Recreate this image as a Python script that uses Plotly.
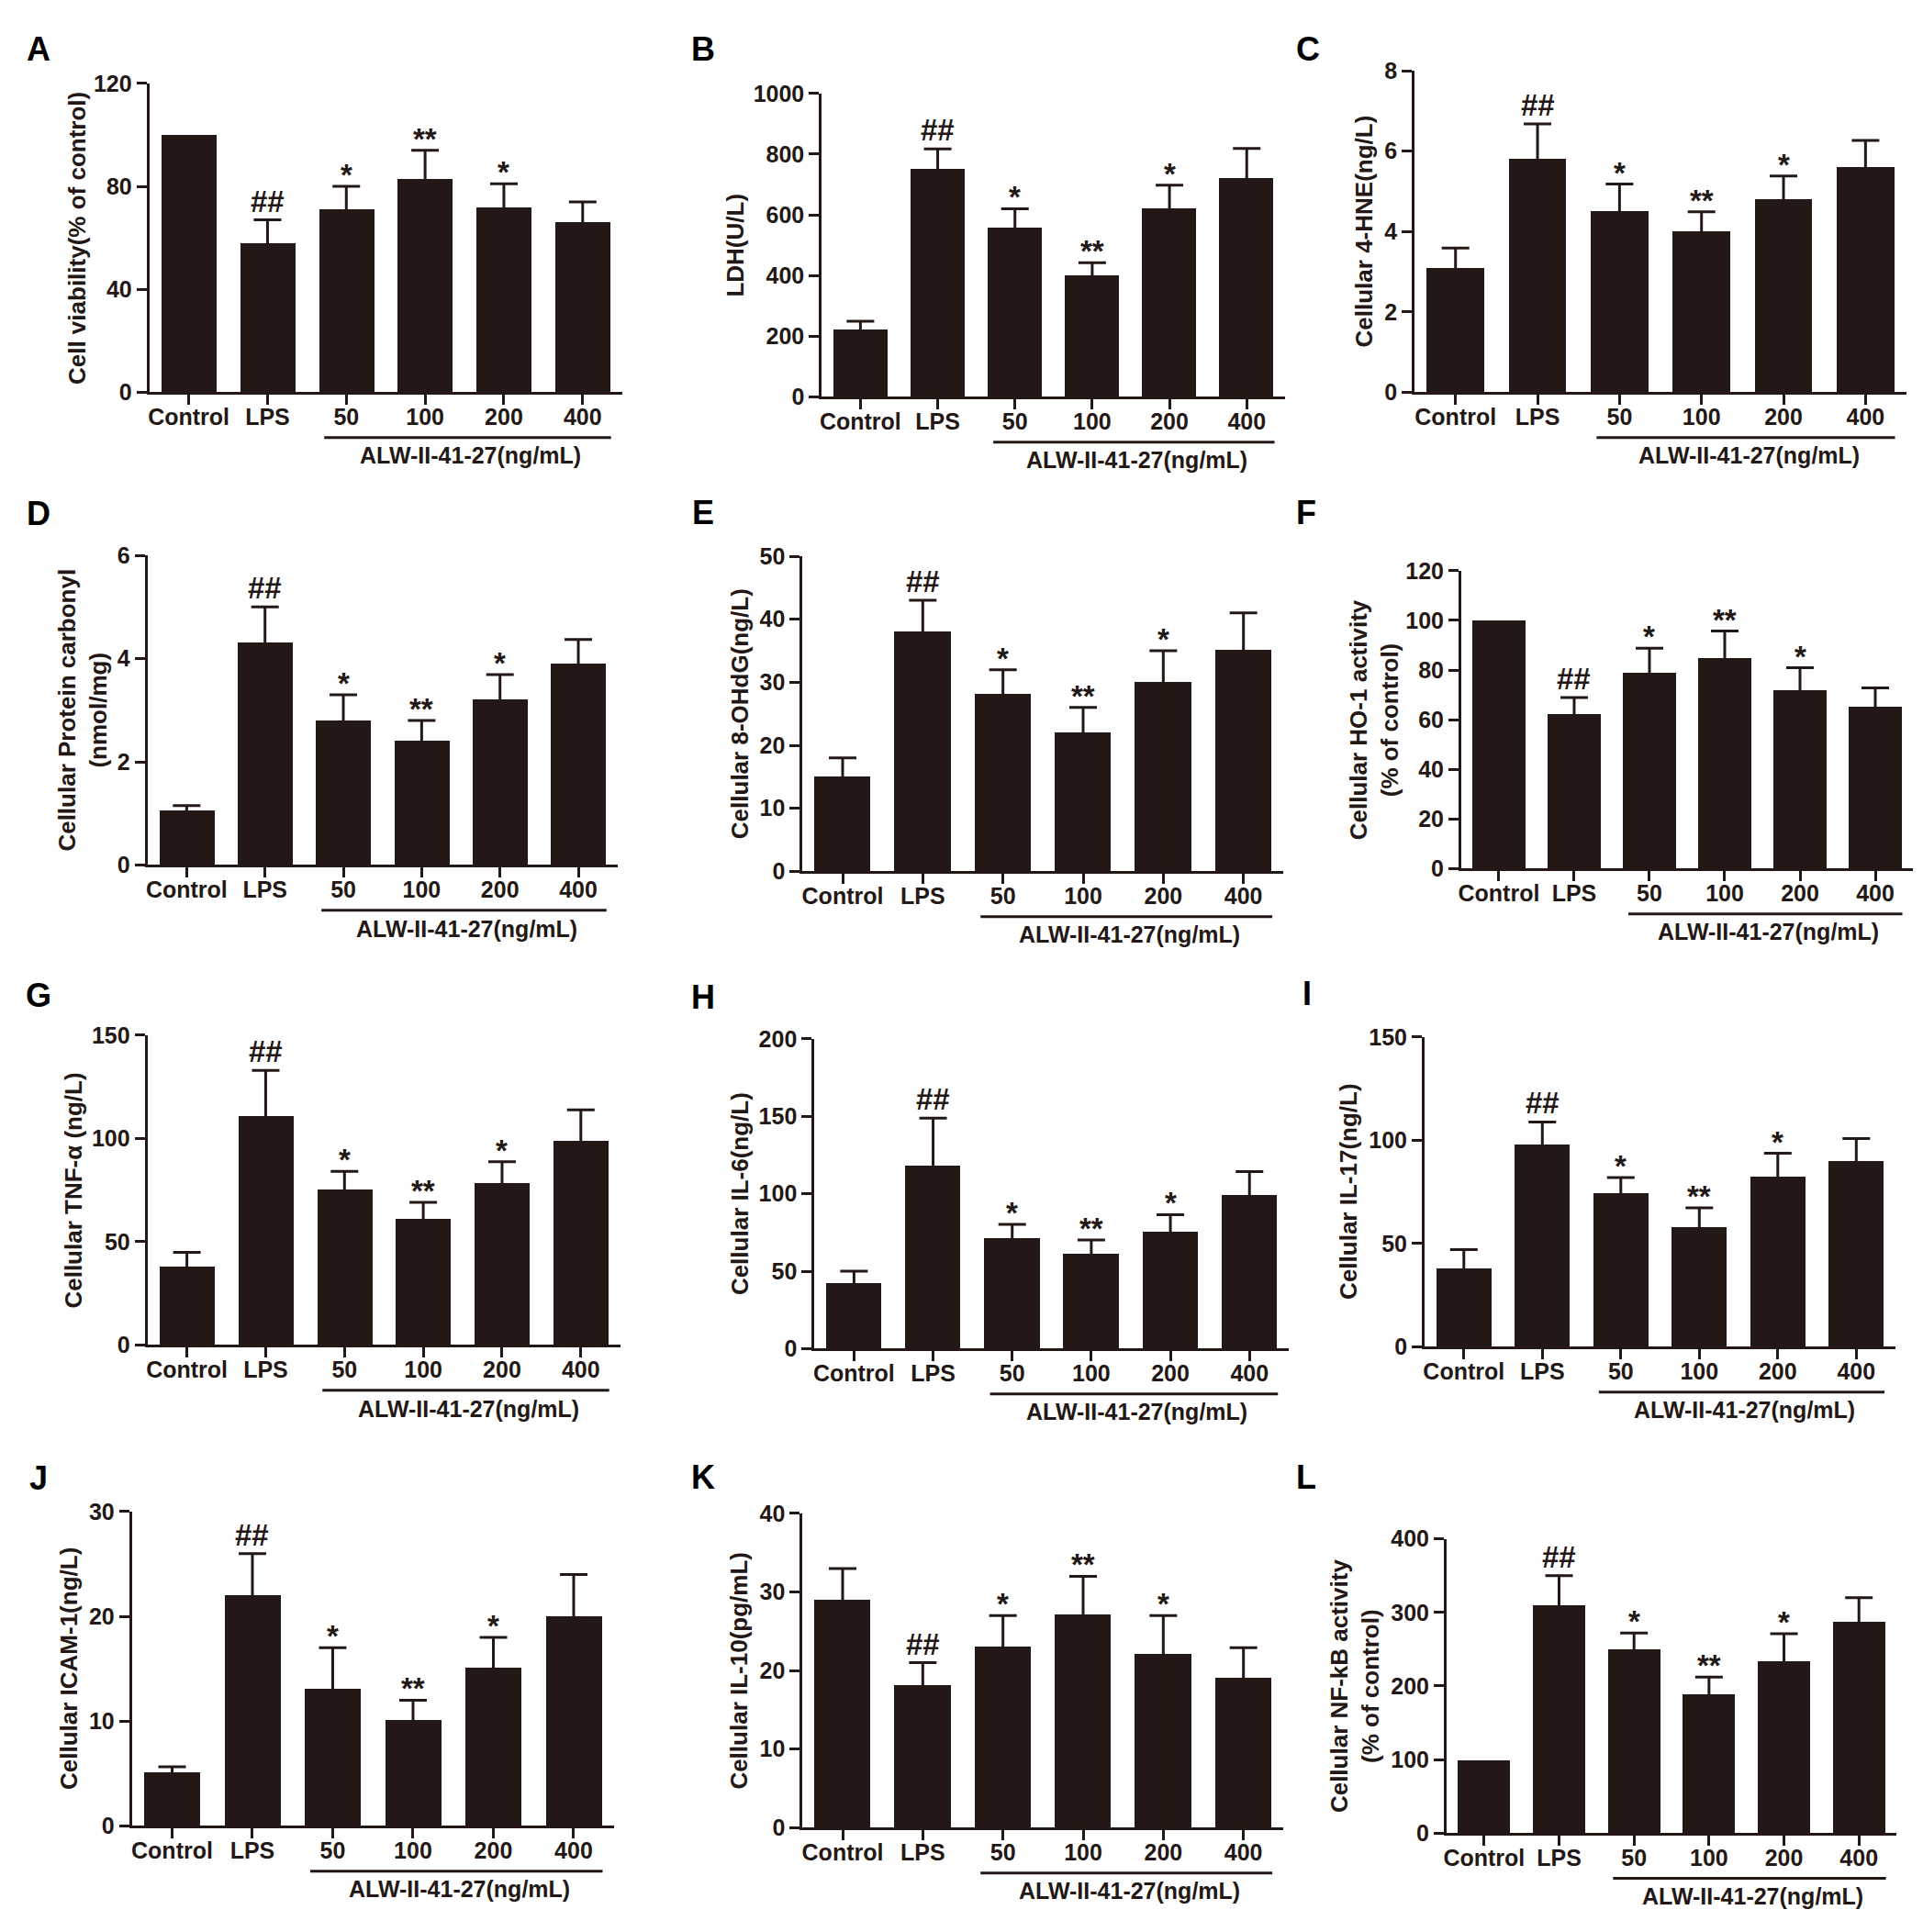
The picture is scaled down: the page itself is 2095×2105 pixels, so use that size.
import plotly.graph_objects as go

W, H = 2095, 2105

categories = ["Control", "LPS", "50", "100", "200", "400"]
marks = ["", "##", "*", "**", "*", ""]
group_label = "ALW-II-41-27(ng/mL)"

# ---- data (mean, upper SEM) ----
a_vals = [100, 58, 71, 83, 72, 66]
a_err = [None, 9, 9, 11, 9, 8]
b_vals = [221, 752, 558, 400, 623, 722]
b_err = [28, 65, 62, 42, 75, 97]
c_vals = [3.1, 5.8, 4.5, 4.0, 4.8, 5.6]
c_err = [0.49, 0.88, 0.68, 0.49, 0.58, 0.67]
d_vals = [1.05, 4.31, 2.80, 2.41, 3.21, 3.90]
d_err = [0.10, 0.69, 0.50, 0.39, 0.48, 0.47]
e_vals = [15.1, 38.1, 28.1, 22.1, 30.1, 35.1]
e_err = [2.9, 4.9, 3.9, 3.9, 4.9, 5.9]
f_vals = [100, 62.2, 79.1, 85.0, 72.0, 65.2]
f_err = [None, 6.7, 9.7, 10.7, 8.9, 7.6]
g_vals = [38.2, 111.1, 75.4, 61.3, 78.3, 99.1]
g_err = [6.7, 21.9, 8.7, 7.8, 10.5, 14.8]
h_vals = [42.5, 118.2, 71.3, 61.3, 75.6, 99.3]
h_err = [7.5, 30.6, 8.9, 8.8, 10.9, 15.0]
i_vals = [38.0, 98.0, 74.3, 58.2, 82.3, 90.1]
i_err = [9.1, 10.9, 7.7, 9.1, 11.4, 10.8]
j_vals = [5.1, 22.0, 13.1, 10.1, 15.1, 20.0]
j_err = [0.55, 4.0, 3.9, 1.9, 2.9, 4.0]
k_vals = [29.0, 18.1, 23.1, 27.1, 22.1, 19.1]
k_err = [4.0, 2.9, 3.9, 4.9, 4.9, 3.8]
l_vals = [100, 310, 250, 189, 234, 288]
l_err = [None, 40, 22, 23, 37, 32]

y_titles = {
    "A": "Cell viability(% of control)",
    "B": "LDH(U/L)",
    "C": "Cellular 4-HNE(ng/L)",
    "D": "Cellular Protein carbonyl<br>(nmol/mg)",
    "E": "Cellular 8-OHdG(ng/L)",
    "F": "Cellular HO-1 activity<br>(% of control)",
    "G": "Cellular TNF-α (ng/L)",
    "H": "Cellular IL-6(ng/L)",
    "I": "Cellular IL-17(ng/L)",
    "J": "Cellular ICAM-1(ng/L)",
    "K": "Cellular IL-10(pg/mL)",
    "L": "Cellular NF-kB activity<br>(% of control)",
}
y_max = {"A": 120, "B": 1000, "C": 8, "D": 6, "E": 50, "F": 120,
         "G": 150, "H": 200, "I": 150, "J": 30, "K": 40, "L": 400}
y_step = {"A": 40, "B": 200, "C": 2, "D": 2, "E": 10, "F": 20,
          "G": 50, "H": 50, "I": 50, "J": 10, "K": 10, "L": 100}
series = {"A": (a_vals, a_err), "B": (b_vals, b_err), "C": (c_vals, c_err),
          "D": (d_vals, d_err), "E": (e_vals, e_err), "F": (f_vals, f_err),
          "G": (g_vals, g_err), "H": (h_vals, h_err), "I": (i_vals, i_err),
          "J": (j_vals, j_err), "K": (k_vals, k_err), "L": (l_vals, l_err)}

# ---- layout geometry in pixels: axis x, axis end x, top y, zero y, title x, letter x, letter y
geom = {
    "A": (159, 675, 78, 419, 80, 38, 40),
    "B": (893, 1399, 89, 424, 799, 763, 40),
    "C": (1540, 2077, 64, 419, 1485, 1424, 40),
    "D": (157, 670, 599, 941, 86, 38, 553),
    "E": (872, 1397, 600, 948, 803, 763, 552),
    "F": (1591, 2084, 616, 945, 1496, 1422, 552),
    "G": (157, 673, 1129, 1471, 76, 38, 1085),
    "H": (885, 1403, 1133, 1475, 803, 763, 1087),
    "I": (1551, 2065, 1131, 1473, 1467, 1423, 1083),
    "J": (140, 666, 1655, 2002, 71, 38, 1618),
    "K": (872, 1397, 1657, 2004, 803, 763, 1617),
    "L": (1575, 2066, 1685, 2010, 1475, 1422, 1617),
}

FONT = "Liberation Sans, Arial, sans-serif"
INK = "#231815"
fig = go.Figure()
annotations = []
shapes = []

for n, key in enumerate("ABCDEFGHIJKL"):
    idx = "" if n == 0 else str(n + 1)
    xa, ya = "x" + idx, "y" + idx
    vals, errs = series[key]
    ax_x, end_x, top_y, zero_y, tx, lx, ly = geom[key]
    xs = list(range(len(categories)))
    fig.add_trace(go.Bar(x=xs, y=vals, width=0.7, marker=dict(color=INK, line=dict(width=0)),
                         xaxis=xa, yaxis=ya, showlegend=False))
    ex = [i for i in xs if errs[i] is not None]
    fig.add_trace(go.Scatter(
        x=ex, y=[vals[i] for i in ex], mode="markers", marker=dict(opacity=0, size=1),
        error_y=dict(type="data", symmetric=False, array=[errs[i] for i in ex],
                     arrayminus=[vals[i] for i in ex], color=INK, thickness=3, width=15),
        xaxis=xa, yaxis=ya, showlegend=False, hoverinfo="skip"))
    dom_x = [ax_x / W, end_x / W]
    dom_y = [1 - zero_y / H, 1 - top_y / H]
    fig.layout["xaxis" + idx] = dict(
        domain=dom_x, range=[-0.5, 5.5], anchor=ya, tickmode="array", tickvals=xs,
        ticktext=categories, showline=True, linewidth=3, linecolor=INK, ticks="outside",
        ticklen=11, tickwidth=3, tickcolor=INK, showgrid=False, zeroline=False,
        ticklabelstandoff=-8, tickangle=0,
        tickfont=dict(family=FONT, size=25, color=INK, weight="bold"), fixedrange=True)
    fig.layout["yaxis" + idx] = dict(
        domain=dom_y, range=[0, y_max[key]], anchor=xa, tick0=0, dtick=y_step[key],
        showline=True, linewidth=3, linecolor=INK, ticks="outside", ticklen=11, tickwidth=3,
        tickcolor=INK, showgrid=False, zeroline=False,
        tickfont=dict(family=FONT, size=25, color=INK, weight="bold"), fixedrange=True)
    # significance marks
    for i in xs:
        if marks[i]:
            top = vals[i] + (errs[i] or 0)
            annotations.append(dict(
                x=i, y=top, xref=xa, yref=ya, text=marks[i], showarrow=False,
                yanchor="bottom", yshift=(0 if marks[i] == "##" else -8),
                font=dict(family=FONT, size=33, color=INK, weight="bold")))
    # group bracket and label
    shapes.append(dict(type="line", xref=xa, yref="paper", x0=1.72, x1=5.36,
                       y0=1 - (zero_y + 50) / H, y1=1 - (zero_y + 50) / H,
                       line=dict(color=INK, width=3)))
    annotations.append(dict(x=3.58, y=1 - (zero_y + 70) / H, xref=xa, yref="paper",
                            text=group_label, showarrow=False, yanchor="middle",
                            font=dict(family=FONT, size=25, color=INK, weight="bold")))
    # y title
    annotations.append(dict(x=tx / W, y=(dom_y[0] + dom_y[1]) / 2, xref="paper", yref="paper",
                            text=y_titles[key], textangle=-90, showarrow=False,
                            xanchor="center", yanchor="middle",
                            font=dict(family=FONT, size=26, color=INK, weight="bold")))
    # panel letter
    annotations.append(dict(x=lx / W, y=1 - ly / H, xref="paper", yref="paper", text=key,
                            showarrow=False, xanchor="center", yanchor="middle",
                            font=dict(family=FONT, size=36, color="#000000", weight="bold")))

fig.update_layout(width=W, height=H, margin=dict(l=0, r=0, t=0, b=0),
                  paper_bgcolor="white", plot_bgcolor="white", bargap=0,
                  annotations=annotations, shapes=shapes)

fig.write_html("out.html", config={"displayModeBar": False},
               post_script="document.body.style.margin='0';")
